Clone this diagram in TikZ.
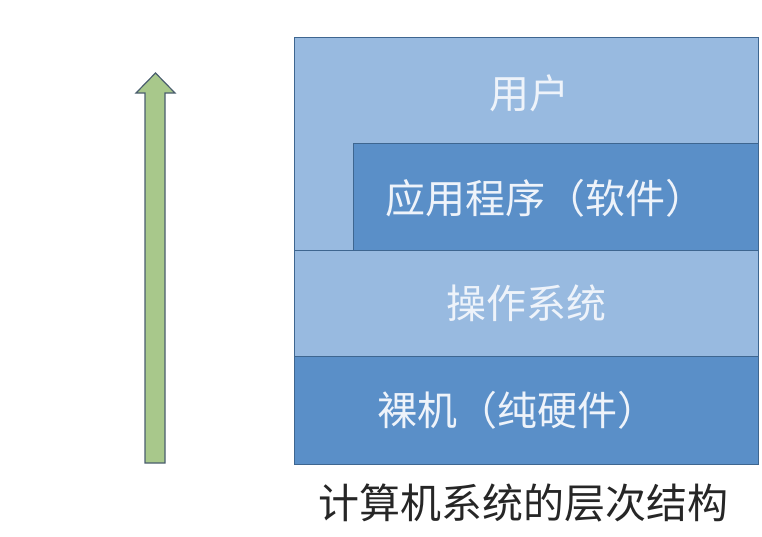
\documentclass[tikz,border=0pt]{standalone}
\usepackage{fontspec}
\newfontfamily\cjk{Noto Sans CJK SC}
\definecolor{lightblue}{HTML}{98BAE0}
\definecolor{darkblue}{HTML}{5A8FC8}
\definecolor{edgeblue}{HTML}{3E6690}
\definecolor{arrowgreen}{HTML}{A8C88B}
\definecolor{arrowedge}{HTML}{4A5E6E}
\definecolor{labeltext}{HTML}{EEF3FA}
\tikzset{
  layer/.style={draw=edgeblue, line width=1pt, anchor=north west, inner sep=0pt},
  lightlayer/.style={layer, fill=lightblue},
  darklayer/.style={layer, fill=darkblue},
  layertext/.style={text=labeltext, font=\cjk\fontsize{40pt}{46pt}\selectfont, inner sep=0pt},
  captiontext/.style={text=black!85, font=\cjk\fontsize{41pt}{47pt}\selectfont, inner sep=0pt}
}
\begin{document}
\begin{tikzpicture}[x=1pt,y=-1pt]
\useasboundingbox (0,0) rectangle (762,536);
% arrow
\draw[fill=arrowgreen, draw=arrowedge, line width=1.2pt, line join=miter]
  (145,463) -- (145,93) -- (136,93) -- (155.5,73) -- (175,93) -- (165,93) -- (165,463) -- cycle;
% layers
\node (user) [lightlayer, minimum width=464pt, minimum height=213pt] at (294,37) {};
\node (app) [darklayer, minimum width=405pt, minimum height=107pt] at (353,143) {};
\node (os) [lightlayer, minimum width=464pt, minimum height=106pt] at (294,250) {};
\node (hw) [darklayer, minimum width=464pt, minimum height=108pt] at (294,356) {};
% labels
\node (usert) [layertext] at (529,93) {用户};
\node (appt) [layertext] at (545,198) {应用程序（软件）};
\node (ost) [layertext] at (526,303) {操作系统};
\node (hwt) [layertext] at (517,410) {裸机（纯硬件）};
\node (cap) [captiontext] at (523,503) {计算机系统的层次结构};
\end{tikzpicture}
\end{document}
